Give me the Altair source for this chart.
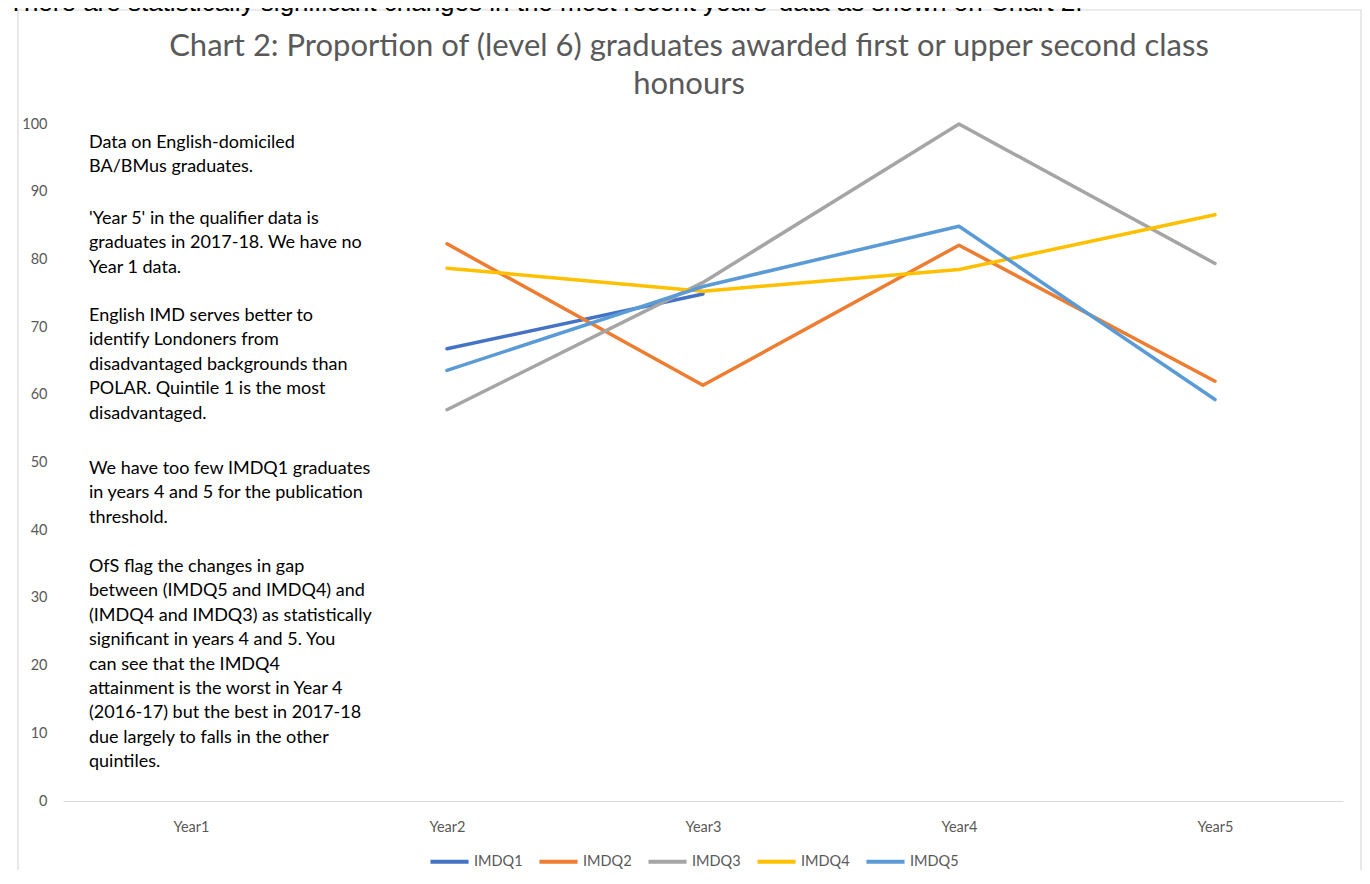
import altair as alt
import pandas as pd

years = ["Year1", "Year2", "Year3", "Year4", "Year5"]
series = ["IMDQ1", "IMDQ2", "IMDQ3", "IMDQ4", "IMDQ5"]
imdq1 = [None, 66.8, 74.9, None, None]
imdq2 = [None, 82.3, 61.4, 82.1, 62.0]
imdq3 = [None, 57.8, 76.6, 100.0, 79.4]
imdq4 = [None, 78.7, 75.3, 78.5, 86.6]
imdq5 = [None, 63.6, 76.0, 84.9, 59.3]
colors = ["#4472C4", "#ED7D31", "#A5A5A5", "#FFC000", "#5B9BD5"]
y_ticks = list(range(0, 101, 10))

title_lines = ["Chart 2: Proportion of (level 6) graduates awarded first or upper second class",
               "honours"]
top_text = "There are statistically significant changes in the most recent years' data as shown on Chart 2."
note_paragraphs = [
    ["Data on English-domiciled",
     "BA/BMus graduates."],
    ["'Year 5' in the qualifier data is",
     "graduates in 2017-18. We have no",
     "Year 1 data."],
    ["English IMD serves better to",
     "identify Londoners from",
     "disadvantaged backgrounds than",
     "POLAR. Quintile 1 is the most",
     "disadvantaged."],
    ["We have too few IMDQ1 graduates",
     "in years 4 and 5 for the publication",
     "threshold."],
    ["OfS flag the changes in gap",
     "between (IMDQ5 and IMDQ4) and",
     "(IMDQ4 and IMDQ3) as statistically",
     "significant in years 4 and 5. You",
     "can see that the IMDQ4",
     "attainment is the worst in Year 4",
     "(2016-17) but the best in 2017-18",
     "due largely to falls in the other",
     "quintiles."],
]

rows = []
for s, vals in zip(series, [imdq1, imdq2, imdq3, imdq4, imdq5]):
    for i, (yr, v) in enumerate(zip(years, vals)):
        if v is not None:
            rows.append({"series": s, "year": yr, "value": v, "order": i})
df = pd.DataFrame(rows)

FONT = "Lato"
W, H = 1280, 677
LH = 24.4

lines = alt.Chart(df).mark_line(strokeWidth=3.5, strokeCap="round", strokeJoin="round").encode(
    x=alt.X("year:N", scale=alt.Scale(domain=years),
            axis=alt.Axis(title=None, labelAngle=0, ticks=False, grid=False,
                          domainColor="#D9D9D9", domainWidth=1,
                          labelColor="#595959", labelFontSize=14.5, labelFont=FONT,
                          labelPadding=19)),
    y=alt.Y("value:Q", scale=alt.Scale(domain=[0, 100], nice=False),
            axis=alt.Axis(title=None, values=y_ticks, domain=False, ticks=False, grid=False,
                          labelColor="#595959", labelFontSize=14.5, labelFont=FONT,
                          labelPadding=16)),
    color=alt.Color("series:N", scale=alt.Scale(domain=series, range=colors),
                    legend=alt.Legend(title=None, orient="none", direction="horizontal",
                                      legendX=365, legendY=716,
                                      symbolType="stroke", symbolSize=1450,
                                      symbolStrokeWidth=4, labelOffset=3,
                                      columnPadding=8, labelFontSize=14.5,
                                      labelColor="#595959", labelFont=FONT)),
    order="order:Q",
    detail="series:N",
)

one = pd.DataFrame({"a": [0]})

border = alt.Chart(one).mark_rect(
    fill=None, stroke="#D9D9D9", strokeWidth=1.2
).encode(x=alt.value(-45), x2=alt.value(1298), y=alt.value(-114), y2=alt.value(790))

title = alt.Chart(one).mark_text(
    text=title_lines, font=FONT, fontSize=31, color="#595959", align="center",
    baseline="middle", lineHeight=38
).encode(x=alt.value(626), y=alt.value(-77))

top = alt.Chart(one).mark_text(
    text=top_text, font="Liberation Sans", fontSize=26, color="#000000", align="left",
    baseline="alphabetic"
).encode(x=alt.value(-55), y=alt.value(-113))

para_y = [19, 95, 192, 345, 443]
notes = [
    alt.Chart(one).mark_text(
        text=para, font=FONT, fontSize=18, color="#000000", align="left",
        baseline="middle", lineHeight=LH
    ).encode(x=alt.value(26), y=alt.value(py))
    for para, py in zip(note_paragraphs, para_y)
]

chart = alt.layer(border, top, title, *notes, lines).properties(
    width=W, height=H,
    autosize=alt.AutoSizeParams(type="none"),
    padding={"left": 55, "top": 116, "right": 19, "bottom": 69},
).configure(background="white").configure_view(stroke=None, strokeWidth=0)

chart.save("out.html", embed_options={"renderer": "svg", "actions": False})
